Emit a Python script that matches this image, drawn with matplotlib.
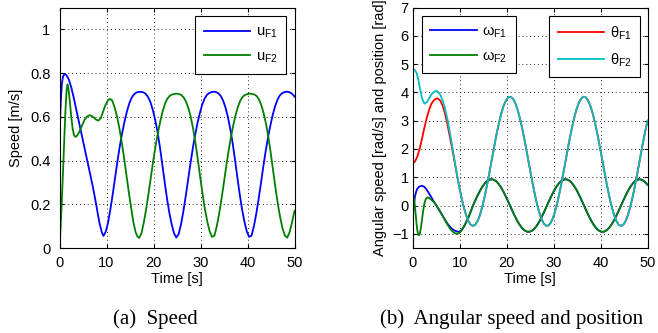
import numpy as np
import matplotlib
matplotlib.use('Agg')
import matplotlib.pyplot as plt
from matplotlib.ticker import FuncFormatter

plt.rcParams['font.family'] = ['Liberation Sans', 'DejaVu Sans']
plt.rcParams['mathtext.fontset'] = 'custom'
plt.rcParams['mathtext.rm'] = 'Liberation Sans'

# ---- (a) speed ----
# u_F1: start-up part, then samples every 0.5 s from t = 9.35
u1_t_start = [0, 0.25, 0.5, 0.75, 1.1, 1.5, 2.0, 2.5, 3.0, 3.5, 4.0, 4.5, 5.0,
              5.5, 6.0, 6.5, 7.0, 7.5, 8.0, 8.5, 9.0]
u1_start = [0.51, 0.66, 0.75, 0.785, 0.797, 0.79, 0.77, 0.735, 0.69, 0.64, 0.59,
            0.54, 0.49, 0.44, 0.39, 0.34, 0.29, 0.235, 0.175, 0.115, 0.072]
u1_t0 = 9.35
u1_steady = [0.055, 0.075, 0.118, 0.180, 0.250, 0.325, 0.400, 0.468, 0.528, 0.580, 0.625, 0.662, 0.687, 0.703, 0.711, 0.714,
             0.714, 0.712, 0.705, 0.690, 0.667, 0.632, 0.587, 0.532, 0.464, 0.386, 0.306, 0.230, 0.163, 0.110, 0.068, 0.048,
             0.063, 0.108, 0.167, 0.236, 0.310, 0.385, 0.455, 0.516, 0.570, 0.616, 0.655, 0.682, 0.700, 0.709, 0.713, 0.715,
             0.713, 0.707, 0.694, 0.672, 0.640, 0.597, 0.543, 0.478, 0.402, 0.322, 0.245, 0.176, 0.120, 0.076, 0.051, 0.056,
             0.098, 0.155, 0.222, 0.295, 0.370, 0.441, 0.504, 0.559, 0.607, 0.647, 0.677, 0.697, 0.708, 0.713, 0.715, 0.713,
             0.708, 0.697]
u1_end = 0.692

# u_F2: start-up part, then samples every 0.5 s from t = 16.95
u2_t_start = [0, 0.25, 0.5, 0.75, 1.0, 1.25, 1.5, 1.7, 1.9, 2.2, 2.5, 2.8, 3.1, 3.4,
              3.8, 4.3, 4.8, 5.3, 5.8, 6.3, 6.8, 7.3, 7.8, 8.3, 8.8, 9.3, 9.8, 10.3,
              10.7, 11.2, 11.7, 12.2, 12.7, 13.2, 13.7, 14.2, 14.7, 15.2, 15.7, 16.2, 16.6]
u2_start = [0.0, 0.1, 0.22, 0.35, 0.49, 0.62, 0.72, 0.748, 0.73, 0.67, 0.60, 0.545,
            0.515, 0.508, 0.515, 0.535, 0.56, 0.585, 0.60, 0.607, 0.605, 0.597, 0.587,
            0.583, 0.595, 0.625, 0.655, 0.675, 0.682, 0.675, 0.645, 0.605, 0.553, 0.49,
            0.418, 0.34, 0.262, 0.19, 0.12, 0.072, 0.052]
u2_t0 = 16.95
u2_steady = [0.046, 0.068, 0.118, 0.180, 0.250, 0.325, 0.400, 0.468, 0.528, 0.580, 0.625, 0.660, 0.683, 0.696, 0.702, 0.705,
             0.706, 0.704, 0.699, 0.688, 0.668, 0.638, 0.597, 0.543, 0.478, 0.402, 0.322, 0.245, 0.176, 0.120, 0.076, 0.051,
             0.056, 0.098, 0.155, 0.222, 0.295, 0.370, 0.441, 0.504, 0.559, 0.607, 0.645, 0.673, 0.691, 0.700, 0.704, 0.706,
             0.705, 0.702, 0.695, 0.679, 0.653, 0.615, 0.567, 0.506, 0.434, 0.354, 0.275, 0.202, 0.140, 0.090, 0.057, 0.047,
             0.072, 0.115, 0.165]
u2_end = 0.17

# ---- (b) angular speed and position ----
w1_t_start = [0, 0.15, 0.3, 0.5, 0.75, 1.0, 1.4, 1.9, 2.4, 2.9, 3.4, 3.9, 4.4, 4.7,
              5.0, 5.5, 6.0, 6.5, 7.0, 7.5, 8.0, 8.5, 9.0, 9.5, 9.8, 10.2, 10.6,
              11.0, 11.2, 11.6, 12.0, 12.4]
w1_start = [-0.50, -0.20, 0.10, 0.33, 0.50, 0.60, 0.67, 0.70, 0.67, 0.58, 0.45, 0.31,
            0.165, 0.09, 0.01, -0.12, -0.26, -0.40, -0.54, -0.66, -0.76, -0.84, -0.89,
            -0.92, -0.925, -0.90, -0.83, -0.72, -0.65, -0.51, -0.36, -0.19]
w2_t_start = [0, 0.2, 0.4, 0.6, 0.8, 1.0, 1.2, 1.35, 1.5, 1.75, 2.0, 2.25, 2.5, 2.75,
              3.1, 3.5, 4.0, 4.4, 4.7, 5.0, 5.5, 6.0, 6.5, 7.0, 7.5, 8.0, 8.5, 9.0,
              9.4, 9.8, 10.3, 10.8, 11.2, 11.6, 12.0, 12.4]
w2_start = [0.45, 0.35, 0.10, -0.25, -0.62, -0.90, -1.03, -1.05, -1.00, -0.78, -0.47,
            -0.16, 0.08, 0.22, 0.29, 0.27, 0.20, 0.135, 0.09, 0.01, -0.12, -0.26, -0.40,
            -0.56, -0.70, -0.83, -0.92, -0.98, -1.00, -0.98, -0.90, -0.76, -0.65, -0.51,
            -0.36, -0.19]
# both angular speeds coincide after t = 12.825 (0.5 s samples)
w_t0 = 12.825
w_steady = [0, 0.184, 0.361, 0.524, 0.666, 0.781, 0.866, 0.916, 0.930, 0.907, 0.848, 0.755, 0.632, 0.485, 0.318, 0.139,
            -0.046, -0.230, -0.404, -0.562, -0.697, -0.805, -0.882, -0.923, -0.927, -0.895, -0.828, -0.727, -0.598, -0.445, -0.274, -0.093,
            0.093, 0.274, 0.445, 0.598, 0.727, 0.828, 0.895, 0.927, 0.923, 0.882, 0.805, 0.697, 0.562, 0.404, 0.230, 0.046,
            -0.139, -0.318, -0.485, -0.632, -0.755, -0.848, -0.907, -0.930, -0.916, -0.866, -0.781, -0.666, -0.524, -0.361, -0.184, 0,
            0.184, 0.361, 0.524, 0.666, 0.781, 0.866, 0.916, 0.930, 0.907, 0.848, 0.755]
w_end = 0.74

th1_t_start = [0, 0.5, 1.0, 1.5, 2.0, 2.5, 3.0, 3.5, 4.0, 4.5, 5.0, 5.325, 5.825, 6.325, 6.825, 7.325]
th1_start = [1.50, 1.56, 1.74, 2.02, 2.38, 2.76, 3.10, 3.39, 3.60, 3.72, 3.78, 3.785, 3.72, 3.55, 3.28, 2.92]
th2_t_start = [0, 0.4, 0.8, 1.2, 1.6, 2.0, 2.5, 3.0, 3.5, 4.0, 4.5, 5.0, 5.325, 5.825,
               6.325, 6.825, 7.325, 7.825, 8.325, 8.825, 9.325]
th2_start = [4.76, 4.79, 4.70, 4.45, 4.10, 3.78, 3.60, 3.65, 3.79, 3.93, 4.02, 4.045,
             4.03, 3.93, 3.74, 3.46, 3.10, 2.67, 2.18, 1.68, 1.19]
# common position curve from t = 7.825 (0.5 s samples); theta_F2 joins at 9.825
th_t0 = 7.825
th_steady = [2.505, 2.073, 1.622, 1.168, 0.730, 0.325, -0.030, -0.323, -0.541, -0.675,
             -0.720, -0.675, -0.541, -0.323, -0.030, 0.325, 0.730, 1.168, 1.622, 2.073, 2.505, 2.899, 3.240, 3.515, 3.712, 3.824,
             3.847, 3.779, 3.624, 3.386, 3.077, 2.708, 2.293, 1.849, 1.394, 0.946, 0.523, 0.140, -0.185, -0.442, -0.619, -0.709,
             -0.709, -0.619, -0.442, -0.185, 0.140, 0.523, 0.946, 1.394, 1.849, 2.293, 2.708, 3.077, 3.386, 3.624, 3.779, 3.847,
             3.824, 3.712, 3.515, 3.240, 2.899, 2.505, 2.073, 1.622, 1.168, 0.730, 0.325, -0.030, -0.323, -0.541, -0.675, -0.720,
             -0.675, -0.541, -0.323, -0.030, 0.325, 0.730, 1.168, 1.622, 2.073, 2.505, 2.899]
th_end = 3.0
th2_join = 4


def series(t_start, v_start, t0, steady, end, skip=0):
    t_grid = t0 + 0.5 * np.arange(len(steady))
    t = np.concatenate([t_start, t_grid[skip:], [50]])
    v = np.concatenate([v_start, steady[skip:], [end]])
    return t, v


t_u1, u1 = series(u1_t_start, u1_start, u1_t0, u1_steady, u1_end)
t_u2, u2 = series(u2_t_start, u2_start, u2_t0, u2_steady, u2_end)
t_w1, w1 = series(w1_t_start, w1_start, w_t0, w_steady, w_end)
t_w2, w2 = series(w2_t_start, w2_start, w_t0, w_steady, w_end)
t_th1, th1 = series(th1_t_start, th1_start, th_t0, th_steady, th_end)
t_th2, th2 = series(th2_t_start, th2_start, th_t0, th_steady, th_end, th2_join)

BLUE = (0, 0, 1)
GREEN = (0, 0.5, 0)
RED = (1, 0, 0)
CYAN = (0, 0.75, 0.75)
FS = 10.5
LW = 1.3

W, H = 658, 333
fig = plt.figure(figsize=(W / 100, H / 100), dpi=100)
ax1 = fig.add_axes([59.5 / W, 85 / H, 235 / W, 240.5 / H])
ax2 = fig.add_axes([412.7 / W, 85 / H, 235 / W, 240.5 / H])


def style(ax, ypad):
    ax.set_axisbelow(True)
    ax.grid(True, linestyle=(0, (1, 3)), color='0.15', linewidth=0.7)
    ax.tick_params(direction='in', top=True, right=True, length=3,
                   labelsize=FS, width=0.8)
    ax.tick_params(axis='x', pad=5.5)
    ax.tick_params(axis='y', pad=ypad)
    for s in ax.spines.values():
        s.set_linewidth(0.8)
    ax.set_xlim(0, 50)
    ax.set_xticks([0, 10, 20, 30, 40, 50])
    ax.set_xlabel('Time [s]', fontsize=FS, labelpad=2)


def legend(ax, handles, labels, loc, x, y):
    leg = ax.legend(handles, labels, loc=loc, bbox_to_anchor=(x / W, 1 - y / H),
                    bbox_transform=fig.transFigure, fontsize=FS, handlelength=3.2,
                    handletextpad=0.35, borderpad=0.6, labelspacing=0.6,
                    borderaxespad=0, fancybox=False, framealpha=1)
    leg.get_frame().set_edgecolor('k')
    leg.get_frame().set_linewidth(0.8)
    return leg


# (a)
l_u1, = ax1.plot(t_u1, u1, color=BLUE, lw=LW)
l_u2, = ax1.plot(t_u2, u2, color=GREEN, lw=LW)
style(ax1, 6.5)
ax1.set_ylim(0, 1.1)
ax1.set_yticks([0, 0.2, 0.4, 0.6, 0.8, 1])
ax1.yaxis.set_major_formatter(FuncFormatter(lambda v, p: '%g' % v))
ax1.set_ylabel('Speed [m/s]', fontsize=FS)
ax1.yaxis.set_label_coords(-0.154, 0.5)
legend(ax1, [l_u1, l_u2], [r'u$_{\mathrm{F1}}$', r'u$_{\mathrm{F2}}$'], 'upper right', 286, 16)

# (b)
l_w1, = ax2.plot(t_w1, w1, color=BLUE, lw=LW)
l_w2, = ax2.plot(t_w2, w2, color=GREEN, lw=LW)
l_th1, = ax2.plot(t_th1, th1, color=RED, lw=LW)
l_th2, = ax2.plot(t_th2, th2, color=CYAN, lw=LW)
style(ax2, 3)
ax2.set_ylim(-1.5, 7)
ax2.set_yticks(range(-1, 8))
ax2.set_ylabel('Angular speed [rad/s] and position [rad]', fontsize=FS)
ax2.yaxis.set_label_coords(-0.111, 0.5)
leg_w = legend(ax2, [l_w1, l_w2], [r'ω$_{\mathrm{F1}}$', r'ω$_{\mathrm{F2}}$'], 'upper left', 421.7, 15.7)
ax2.add_artist(leg_w)
legend(ax2, [l_th1, l_th2], [r'θ$_{\mathrm{F1}}$', r'θ$_{\mathrm{F2}}$'], 'upper right', 640, 15.7)

# sub-captions
fig.text(155 / W, 1 - 319 / H, '(a)  Speed', ha='center', va='center',
         family='Liberation Serif', fontsize=15)
fig.text(511.6 / W, 1 - 319 / H, '(b)  Angular speed and position', ha='center',
         va='center', family='Liberation Serif', fontsize=15)

fig.savefig('out.png', dpi=100, facecolor='white')
